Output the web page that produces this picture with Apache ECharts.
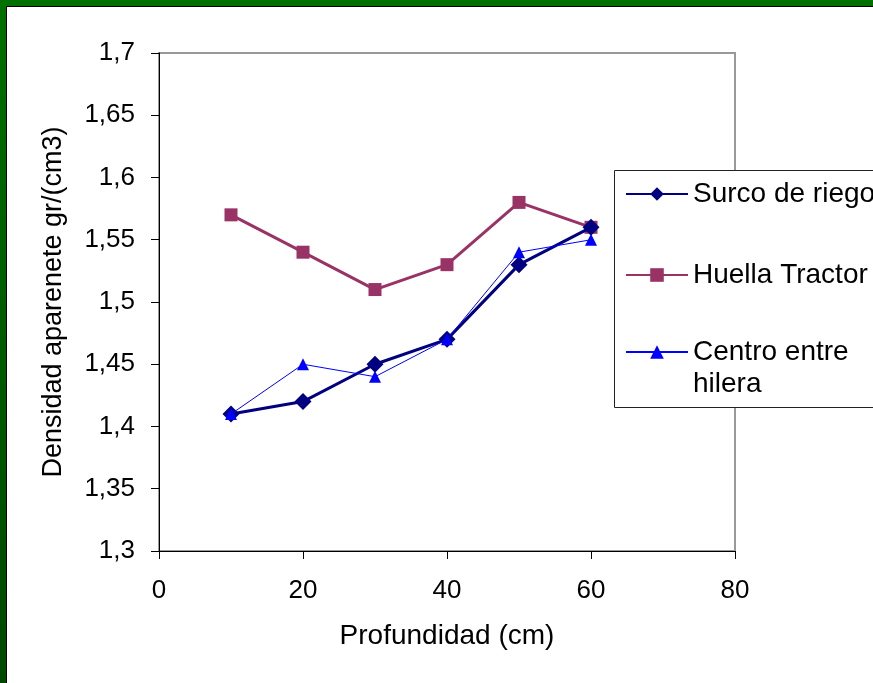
<!DOCTYPE html>
<html>
<head>
<meta charset="utf-8">
<script src="https://cdn.jsdelivr.net/npm/echarts@6/dist/echarts.min.js"></script>
<style>
html,body{margin:0;padding:0;background:#fff;}
#chart{width:873px;height:683px;}
</style>
</head>
<body>
<div id="chart"></div>
<script>
const depths = [10, 20, 30, 40, 50, 60];
const surcoDeRiego = [1.41, 1.42, 1.45, 1.47, 1.53, 1.56];
const huellaTractor = [1.57, 1.54, 1.51, 1.53, 1.58, 1.56];
const centroEntreHilera = [1.41, 1.45, 1.44, 1.47, 1.54, 1.55];
const seriesNames = ['Surco de riego', 'Huella Tractor', 'Centro entre hilera'];
const xTitle = 'Profundidad (cm)';
const yTitle = 'Densidad aparenete gr/(cm3)';

const FONT = 'Liberation Sans, Arial, sans-serif';
const pairs = (ys) => depths.map((x, i) => [x, ys[i]]);

const chart = echarts.init(document.getElementById('chart'), null, {renderer: 'canvas'});

const legendBase = {
  orient: 'vertical',
  left: 625,
  padding: 0,
  itemWidth: 62,
  itemHeight: 17,
  itemGap: 0,
  z: 20,
  selectedMode: false,
  textStyle: {fontFamily: FONT, fontSize: 28, color: '#000', lineHeight: 32}
};

chart.setOption({
  animation: false,
  backgroundColor: '#ffffff',
  graphic: [
    {type: 'rect', left: 0, top: 0, shape: {width: 873, height: 6}, style: {fill: '#007000'}, z: 100},
    {type: 'rect', left: 0, top: 0, shape: {width: 6, height: 683},
      style: {fill: new echarts.graphic.LinearGradient(0, 0, 0, 1, [{offset: 0, color: '#007000'}, {offset: 1, color: '#004800'}])}, z: 100},
    {type: 'rect', left: 6, top: 6, shape: {width: 867, height: 1}, style: {fill: '#000'}, z: 100},
    {type: 'rect', left: 6, top: 6, shape: {width: 1, height: 677}, style: {fill: '#000'}, z: 100},
    {type: 'rect', left: 614, top: 170, shape: {width: 280, height: 237}, style: {fill: '#fff', stroke: '#222', lineWidth: 1}, z: 1}
  ],
  grid: {left: 159, top: 53, right: 138, bottom: 132, show: true, borderColor: '#999', borderWidth: 2, backgroundColor: 'transparent', z: 0},
  xAxis: {
    type: 'value', min: 0, max: 80, interval: 20,
    name: xTitle, nameLocation: 'middle', nameGap: 71,
    nameTextStyle: {fontFamily: FONT, fontSize: 28, color: '#000'},
    axisLine: {show: true, onZero: false, lineStyle: {color: '#000', width: 1}},
    axisTick: {show: true, inside: false, length: 8, lineStyle: {color: '#000'}},
    axisLabel: {fontFamily: FONT, fontSize: 26, color: '#000', margin: 27},
    splitLine: {show: false}
  },
  yAxis: {
    type: 'value', min: 1.3, max: 1.7, interval: 0.05,
    name: yTitle, nameLocation: 'middle', nameGap: 92, nameRotate: 90,
    nameTextStyle: {fontFamily: FONT, fontSize: 27, color: '#000'},
    axisLine: {show: true, onZero: false, lineStyle: {color: '#000', width: 1}},
    axisTick: {show: true, inside: false, length: 8, lineStyle: {color: '#000'}},
    axisLabel: {fontFamily: FONT, fontSize: 26, color: '#000', margin: 24,
      formatter: (v) => String(Math.round(v * 100) / 100).replace('.', ',')},
    splitLine: {show: false}
  },
  legend: [
    Object.assign({}, legendBase, {top: 178, data: [seriesNames[0]]}),
    Object.assign({}, legendBase, {top: 259, data: [seriesNames[1]]}),
    Object.assign({}, legendBase, {top: 304, data: [seriesNames[2]],
      formatter: () => '\nCentro entre\nhilera'})
  ],
  series: [
    {
      name: seriesNames[0], type: 'line', data: pairs(surcoDeRiego),
      symbol: 'diamond', symbolSize: 17,
      lineStyle: {color: '#000080', width: 3},
      itemStyle: {color: '#000080'}, z: 3
    },
    {
      name: seriesNames[1], type: 'line', data: pairs(huellaTractor),
      symbol: 'rect', symbolSize: 13,
      lineStyle: {color: '#993366', width: 3},
      itemStyle: {color: '#993366'}, z: 2
    },
    {
      name: seriesNames[2], type: 'line', data: pairs(centroEntreHilera),
      symbol: 'triangle', symbolSize: 12,
      lineStyle: {color: '#0000ff', width: 1},
      itemStyle: {color: '#0000ff'}, z: 4
    }
  ]
});
</script>
</body>
</html>
